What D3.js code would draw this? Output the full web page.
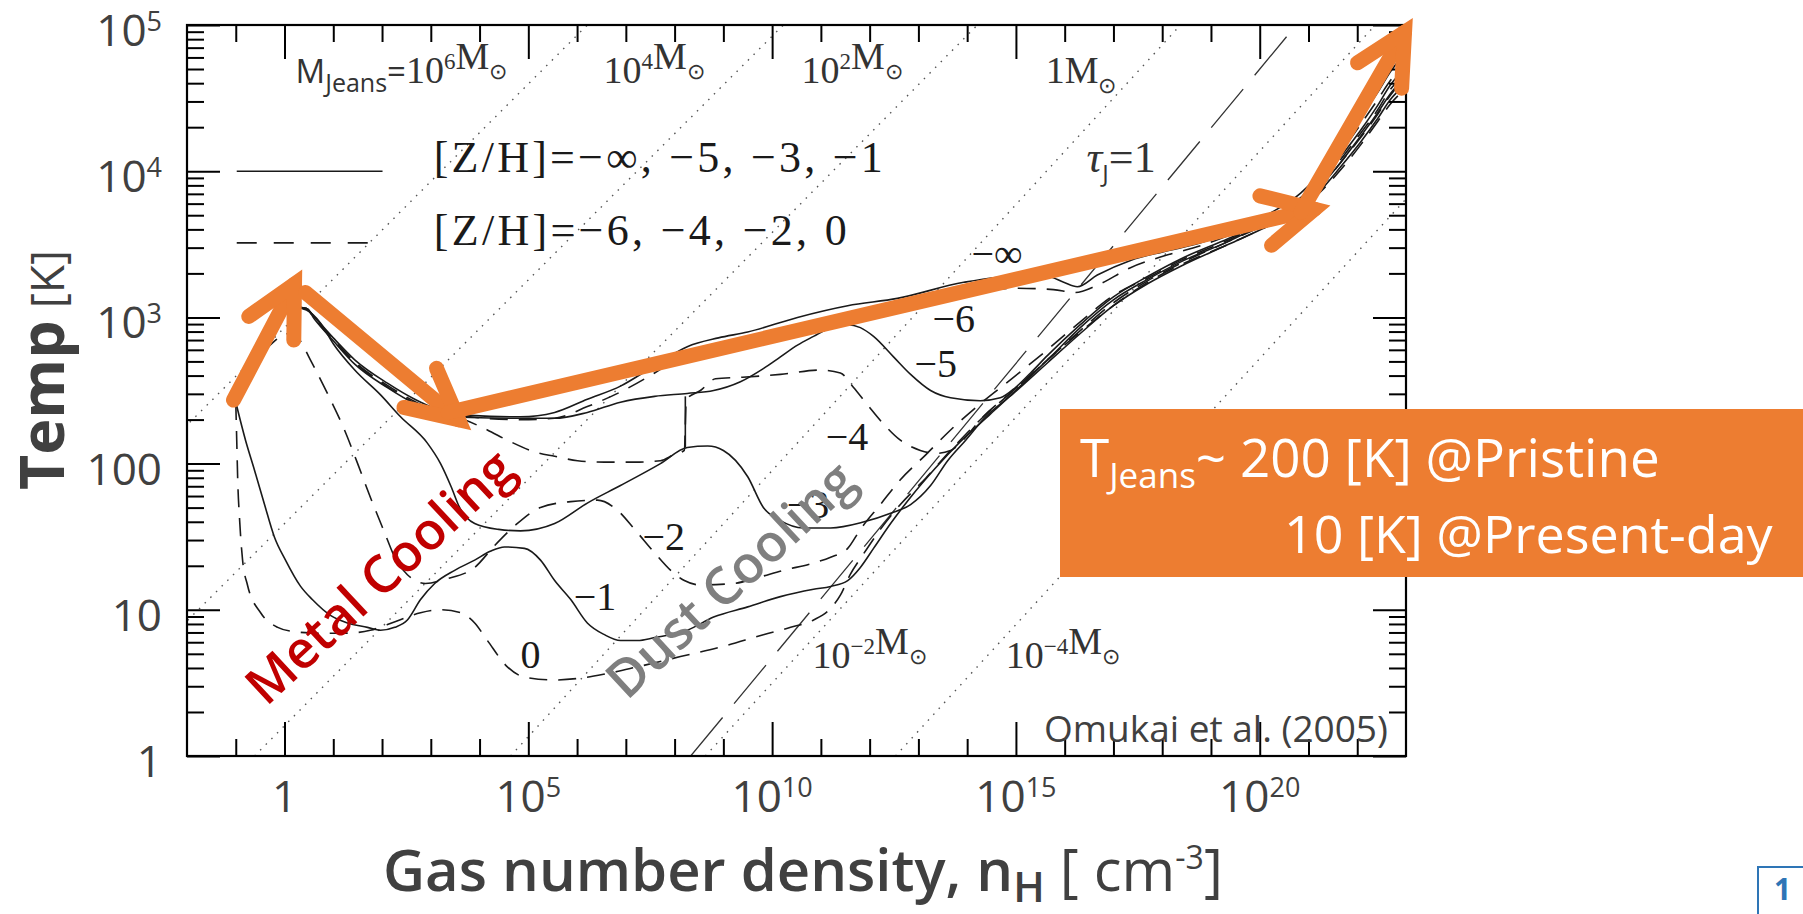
<!DOCTYPE html>
<html>
<head>
<meta charset="utf-8">
<script src="https://cdn.jsdelivr.net/npm/d3@7"></script>
<style>
  body { margin: 0; background: #fff; }
  svg { display: block; }
  .sans { font-family: "Open Sans", "Noto Sans", sans-serif; }
  .serif { font-family: "Liberation Serif", "DejaVu Serif", serif; }
</style>
</head>
<body>
<svg id="chart" width="1803" height="914"></svg>
<script>
// values: [log10 n_H (cm^-3), log10 T (K)]
const trackMinusInf = [[-1.0,2.42],[-0.6,2.72],[-0.2,2.95],[0.2,3.07],[0.45,3.06],[0.62,3.0],[1.0,2.86],[1.44,2.71],[2.11,2.55],[2.67,2.44],[3.14,2.37],[3.81,2.33],[4.84,2.32],[5.54,2.35],[6.21,2.44],[6.89,2.53],[7.59,2.67],[8.26,2.80],[8.9,2.86],[9.5,2.90],[10.52,3.0],[11.55,3.08],[12.57,3.13],[13.93,3.24],[14.95,3.28],[15.65,3.28],[15.98,3.24],[16.26,3.21],[16.67,3.29],[17.35,3.39],[18.03,3.45],[18.79,3.51],[19.36,3.58],[20.2,3.71],[20.84,3.85],[21.25,3.99],[21.66,4.18],[22.07,4.37],[22.42,4.54],[22.68,4.68],[23.01,4.82]];
const trackM6 = [[-1.0,2.42],[-0.6,2.72],[-0.2,2.95],[0.2,3.07],[0.45,3.06],[0.62,2.99],[1.0,2.85],[1.44,2.695],[2.11,2.535],[2.67,2.425],[3.14,2.355],[3.81,2.32],[4.84,2.30],[5.54,2.31],[6.21,2.39],[6.89,2.49],[7.59,2.62],[8.26,2.76],[8.9,2.80],[9.5,2.83],[10.52,2.93],[11.55,3.01],[12.57,3.06],[13.93,3.15],[14.95,3.20],[15.77,3.19],[16.22,3.17],[16.67,3.22],[17.35,3.34],[18.03,3.42],[18.79,3.49],[19.36,3.56],[20.2,3.69],[20.84,3.82],[21.25,3.96],[21.66,4.13],[22.07,4.32],[22.42,4.49],[22.68,4.62],[23.01,4.75]];
const trackM5 = [[-1.0,2.42],[-0.6,2.72],[-0.2,2.95],[0.2,3.07],[0.45,3.06],[0.62,2.985],[1.0,2.84],[1.44,2.68],[2.11,2.52],[2.67,2.41],[3.14,2.345],[3.81,2.315],[4.84,2.31],[5.54,2.31],[6.21,2.35],[6.89,2.42],[7.59,2.46],[8.26,2.48],[8.8,2.50],[9.35,2.56],[9.82,2.65],[10.17,2.73],[10.52,2.81],[10.85,2.87],[11.2,2.93],[11.55,2.95],[11.81,2.93],[12.08,2.87],[12.49,2.73],[12.84,2.61],[13.25,2.50],[13.66,2.45],[14.27,2.43],[14.68,2.45],[14.99,2.52],[15.3,2.62],[15.65,2.74],[16.32,2.95],[17.0,3.14],[17.7,3.28],[18.38,3.40],[19.36,3.54],[20.2,3.67],[20.84,3.79],[21.25,3.93],[21.66,4.10],[22.07,4.28],[22.42,4.45],[22.68,4.59],[23.01,4.71]];
const trackM4 = [[-1.0,2.42],[-0.6,2.72],[-0.2,2.95],[0.2,3.07],[0.45,3.06],[0.62,2.99],[1.0,2.845],[1.44,2.69],[2.11,2.525],[2.67,2.415],[3.14,2.35],[3.69,2.30],[4.16,2.23],[4.57,2.16],[5.13,2.08],[5.54,2.05],[6.01,2.02],[6.56,2.01],[7.18,2.01],[7.71,2.02],[7.98,2.06],[8.2,2.09],[8.24,2.44],[8.53,2.50],[8.84,2.58],[9.35,2.59],[10.17,2.61],[10.99,2.64],[11.40,2.62],[11.67,2.52],[11.96,2.40],[12.26,2.28],[12.63,2.16],[13.04,2.09],[13.35,2.07],[13.66,2.09],[13.97,2.18],[14.27,2.30],[14.95,2.50],[15.65,2.71],[16.32,2.91],[17.0,3.10],[17.7,3.25],[18.38,3.37],[19.36,3.52],[20.2,3.65],[20.84,3.77],[21.25,3.89],[21.66,4.06],[22.07,4.23],[22.42,4.39],[22.68,4.52],[23.01,4.64]];
const trackM3 = [[-1.0,2.42],[-0.6,2.72],[-0.2,2.95],[0.2,3.07],[0.45,3.05],[0.74,2.96],[1.0,2.82],[1.44,2.64],[1.97,2.47],[2.38,2.32],[2.93,2.14],[3.2,2.0],[3.42,1.84],[3.59,1.70],[3.90,1.59],[4.39,1.55],[4.84,1.54],[5.54,1.59],[6.21,1.73],[6.89,1.85],[7.71,2.0],[8.26,2.11],[8.68,2.12],[9.0,2.09],[9.5,1.91],[9.82,1.70],[10.17,1.61],[10.64,1.56],[11.2,1.56],[11.87,1.60],[12.43,1.66],[12.84,1.72],[13.25,1.85],[13.6,2.02],[13.97,2.16],[14.38,2.32],[14.95,2.48],[15.65,2.69],[16.32,2.89],[17.0,3.08],[17.7,3.23],[18.38,3.35],[19.36,3.50],[20.2,3.63],[20.84,3.75],[21.25,3.87],[21.66,4.03],[22.07,4.20],[22.42,4.36],[22.68,4.49],[23.01,4.60]];
const trackM2 = [[-1.0,2.42],[-0.6,2.68],[-0.2,2.84],[0.1,2.89],[0.3,2.85],[0.53,2.71],[0.88,2.48],[1.23,2.23],[1.50,2.0],[1.76,1.77],[2.05,1.53],[2.26,1.36],[2.52,1.24],[2.89,1.18],[3.30,1.21],[3.90,1.29],[4.31,1.44],[4.74,1.58],[5.25,1.70],[5.87,1.74],[6.42,1.75],[6.83,1.68],[7.18,1.55],[7.59,1.39],[7.92,1.27],[8.2,1.20],[8.53,1.17],[9.21,1.18],[9.70,1.22],[10.23,1.27],[10.85,1.32],[11.2,1.36],[11.55,1.42],[11.81,1.55],[12.22,1.72],[12.63,1.89],[13.15,2.06],[13.66,2.23],[14.27,2.41],[14.95,2.59],[15.65,2.78],[16.32,2.97],[17.0,3.15],[17.7,3.27],[18.38,3.39],[19.36,3.53],[20.2,3.67],[20.84,3.78],[21.25,3.91],[21.66,4.08],[22.07,4.26],[22.42,4.42],[22.68,4.56],[23.01,4.67]];
const trackM1 = [[-1.0,2.42],[-0.8,2.16],[-0.62,1.96],[-0.41,1.72],[-0.21,1.50],[0.02,1.34],[0.33,1.16],[0.57,1.07],[0.95,0.96],[1.29,0.91],[1.70,0.88],[1.97,0.86],[2.26,0.88],[2.52,0.93],[2.79,1.07],[3.08,1.18],[3.49,1.27],[3.90,1.34],[4.22,1.40],[4.51,1.43],[4.92,1.42],[5.25,1.34],[5.54,1.20],[5.87,1.07],[6.21,0.91],[6.56,0.83],[6.89,0.79],[7.24,0.79],[7.59,0.81],[8.26,0.86],[8.80,0.95],[9.50,1.02],[10.17,1.09],[10.85,1.14],[11.2,1.16],[11.55,1.20],[11.81,1.29],[12.08,1.42],[12.43,1.59],[12.84,1.77],[13.35,1.97],[13.86,2.15],[14.48,2.34],[15.09,2.53],[15.71,2.73],[16.32,2.93],[17.0,3.12],[17.7,3.26],[18.38,3.38],[19.36,3.52],[20.2,3.66],[20.84,3.77],[21.25,3.90],[21.66,4.06],[22.07,4.24],[22.42,4.40],[22.68,4.53],[23.01,4.65]];
const track0 = [[-1.0,2.42],[-0.98,2.16],[-0.96,1.89],[-0.92,1.61],[-0.86,1.34],[-0.76,1.17],[-0.49,0.98],[-0.14,0.88],[0.21,0.85],[0.74,0.84],[1.25,0.84],[1.76,0.86],[2.28,0.92],[2.79,0.98],[3.2,1.0],[3.61,0.98],[3.9,0.91],[4.16,0.79],[4.57,0.61],[4.92,0.54],[5.54,0.52],[6.01,0.53],[6.56,0.56],[7.24,0.61],[8.12,0.68],[9.0,0.75],[9.82,0.83],[10.38,0.88],[10.85,0.93],[11.2,1.01],[11.4,1.10],[11.6,1.24],[11.85,1.37],[12.22,1.55],[12.63,1.72],[13.15,1.90],[13.66,2.09],[14.27,2.30],[14.95,2.50],[15.65,2.71],[16.32,2.90],[17.0,3.08],[17.7,3.24],[18.38,3.36],[19.36,3.50],[20.2,3.63],[20.84,3.74],[21.25,3.86],[21.66,4.01],[22.07,4.18],[22.42,4.34],[22.68,4.46],[23.01,4.57]];
const jumpSegment = [[8.22,2.11],[8.22,2.46]];

const trackNames = ["−∞", "−6", "−5", "−4", "−3", "−2", "−1", "0"];
const trackDashed = [false, true, false, true, false, true, false, true];
const tracks = [trackMinusInf, trackM6, trackM5, trackM4, trackM3, trackM2, trackM1, track0];
// label anchor (log n, log T) for each track
const trackLabelPos = [[14.09,3.345],[13.29,2.90],[12.92,2.59],[11.10,2.093],[10.3,1.63],[7.34,1.409],[5.93,0.999],[4.84,0.602]];

// constant Jeans mass lines: log10 M and log n where the line meets T = 1 K and T = 1e5 K
const jeansMassExp = [6, 4, 2, 0, -2, -4];
const jeansLineN = [[-8.79,6.21],[-4.77,10.23],[-0.615,14.21],[4.635,18.375],[8.63,22.37],[12.53,26.27]];
const jeansLabelPos = [[0.226,4.603],[6.54,4.603],[10.60,4.603],[15.61,4.603],[10.83,0.602],[14.79,0.602]];
// tau_J = 1 line
const tauLine = [[8.33,0],[20.75,5]];

const xTickExp = [0, 5, 10, 15, 20];
const xTickLabels = [["1",""],["10","5"],["10","10"],["10","15"],["10","20"]];
const yTickExp = [0, 1, 2, 3, 4, 5];
const yTickLabels = [["1",""],["10",""],["100",""],["10","3"],["10","4"],["10","5"]];

const legendSolidText = "[Z/H]=−∞, −5, −3, −1";
const legendDashText = "[Z/H]=−6, −4, −2, 0";

// orange annotation arrows (log n, log T)
const arrows = [
  [[-1.046,2.435],[0.205,3.228]],
  [[0.43,3.17],[3.57,2.30]],
  [[3.36,2.35],[21.12,3.74]],
  [[20.84,3.72],[22.97,4.95]]
];

const svg = d3.select("#chart");
const x = d3.scaleLog().domain([1e-2, 1e23]).range([187, 1406]);
const y = d3.scaleLog().domain([1, 1e5]).range([756, 25]);
const X = v => x(Math.pow(10, v));
const Y = v => y(Math.pow(10, v));
const ORANGE = "#ED7D31";
const INK = "#1a1a1a";
const GREY = "#404040";

svg.append("rect").attr("width", 1803).attr("height", 914).attr("fill", "#fff");
svg.append("clipPath").attr("id", "plotClip").append("rect")
  .attr("x", 187).attr("y", 25).attr("width", 1219).attr("height", 731);

const plotG = svg.append("g").attr("clip-path", "url(#plotClip)");

// Jeans mass dotted lines
plotG.selectAll(".jeans").data(jeansLineN).enter().append("line")
  .attr("x1", d => X(d[0])).attr("y1", Y(0))
  .attr("x2", d => X(d[1])).attr("y2", Y(5))
  .attr("stroke", "#555").attr("stroke-width", 1.4)
  .attr("stroke-dasharray", "1.5,6.5");

// tau_J = 1
plotG.append("line")
  .attr("x1", X(tauLine[0][0])).attr("y1", Y(tauLine[0][1]))
  .attr("x2", X(tauLine[1][0])).attr("y2", Y(tauLine[1][1]))
  .attr("stroke", "#333").attr("stroke-width", 1.3)
  .attr("stroke-dasharray", "50,18");

const line = d3.line().x(d => X(d[0])).y(d => Y(d[1])).curve(d3.curveMonotoneX);
plotG.selectAll(".track").data(tracks).enter().append("path")
  .attr("d", line)
  .attr("fill", "none").attr("stroke", INK).attr("stroke-width", 1.6)
  .attr("stroke-dasharray", (d, i) => trackDashed[i] ? "18,11" : null);
plotG.append("path").attr("d", d3.line().x(d => X(d[0])).y(d => Y(d[1]))(jumpSegment))
  .attr("fill", "none").attr("stroke", INK).attr("stroke-width", 1.6);

// curve labels
svg.selectAll(".tlab").data(trackNames).enter().append("text")
  .attr("class", "serif")
  .attr("x", (d, i) => X(trackLabelPos[i][0]))
  .attr("y", (d, i) => Y(trackLabelPos[i][1]))
  .attr("font-size", 40).attr("fill", INK)
  .text(d => d);

function rich(sel, parts) {
  parts.forEach(p => {
    const s = sel.append("tspan").text(p.t);
    if (p.dy) s.attr("dy", p.dy);
    if (p.size) s.attr("font-size", p.size);
    if (p.cls) s.attr("class", p.cls);
    if (p.style) s.attr("font-style", p.style);
    if (p.weight) s.attr("font-weight", p.weight);
  });
  return sel;
}

// Jeans mass labels
jeansMassExp.forEach((e, i) => {
  const t = svg.append("text").attr("class", "serif")
    .attr("x", X(jeansLabelPos[i][0])).attr("y", Y(jeansLabelPos[i][1]))
    .attr("font-size", 38).attr("fill", "#333");
  const parts = [];
  if (i === 0) {
    parts.push({t: "M", cls: "sans", size: 33}, {t: "Jeans", cls: "sans", size: 25, dy: 9}, {t: "=", cls: "sans", size: 33, dy: -9});
  }
  if (e === 0) parts.push({t: "1", size: 38});
  else parts.push({t: "10", size: 38}, {t: e < 0 ? "−" + (-e) : String(e), size: 23, dy: -14}, {t: "", dy: 14});
  parts.push({t: "M", size: 38}, {t: "⊙", size: 22, dy: 10, cls: "sans"});
  rich(t, parts);
});

// legend
svg.append("line").attr("x1", X(-0.98)).attr("x2", X(2.01)).attr("y1", Y(4)).attr("y2", Y(4))
  .attr("stroke", INK).attr("stroke-width", 1.6);
svg.append("line").attr("x1", X(-0.98)).attr("x2", X(1.72)).attr("y1", Y(3.51)).attr("y2", Y(3.51))
  .attr("stroke", INK).attr("stroke-width", 1.6).attr("stroke-dasharray", "20,17");
svg.append("text").attr("class", "serif").attr("x", X(3.06)).attr("y", Y(3.995))
  .attr("font-size", 44).attr("fill", INK).attr("textLength", 449).attr("lengthAdjust", "spacing")
  .text(legendSolidText);
svg.append("text").attr("class", "serif").attr("x", X(3.06)).attr("y", Y(3.495))
  .attr("font-size", 44).attr("fill", INK).attr("textLength", 413).attr("lengthAdjust", "spacing")
  .text(legendDashText);
rich(svg.append("text").attr("class", "serif").attr("x", X(16.45)).attr("y", Y(3.995))
  .attr("font-size", 44).attr("fill", "#333"),
  [{t: "τ", style: "italic"}, {t: "J", cls: "sans", size: 24, dy: 10}, {t: "=1", dy: -10}]);

// axes ticks (inward on all four sides)
const decades = d3.range(-1, 23);
const xMinor = decades.filter(e => e % 5 !== 0).map(e => Math.pow(10, e));
const xMajor = xTickExp.map(e => Math.pow(10, e));
const yMajor = yTickExp.map(e => Math.pow(10, e));
const yMinor = [];
d3.range(0, 5).forEach(d => d3.range(2, 10).forEach(k => yMinor.push(k * Math.pow(10, d))));

function ticks(axis, tx, ty) {
  svg.append("g").attr("transform", `translate(${tx},${ty})`).call(axis)
    .call(g => g.select(".domain").remove())
    .call(g => g.selectAll("line").attr("stroke", "#000").attr("stroke-width", 2));
}
ticks(d3.axisBottom(x).tickValues(xMinor).tickSize(-17).tickFormat(""), 0, 756);
ticks(d3.axisBottom(x).tickValues(xMajor).tickSize(-34).tickFormat(""), 0, 756);
ticks(d3.axisTop(x).tickValues(xMinor).tickSize(-17).tickFormat(""), 0, 25);
ticks(d3.axisTop(x).tickValues(xMajor).tickSize(-34).tickFormat(""), 0, 25);
ticks(d3.axisLeft(y).tickValues(yMinor).tickSize(-17).tickFormat(""), 187, 0);
ticks(d3.axisLeft(y).tickValues(yMajor).tickSize(-33).tickFormat(""), 187, 0);
ticks(d3.axisRight(y).tickValues(yMinor).tickSize(-17).tickFormat(""), 1406, 0);
ticks(d3.axisRight(y).tickValues(yMajor).tickSize(-33).tickFormat(""), 1406, 0);

svg.append("rect").attr("x", 187).attr("y", 25).attr("width", 1219).attr("height", 731)
  .attr("fill", "none").attr("stroke", "#000").attr("stroke-width", 2.2);

// tick labels
xTickExp.forEach((e, i) => {
  const t = svg.append("text").attr("class", "sans").attr("x", X(e)).attr("y", 812)
    .attr("text-anchor", "middle").attr("font-size", 44).attr("fill", GREY);
  rich(t, [{t: xTickLabels[i][0]}, {t: xTickLabels[i][1], size: 27, dy: -15}]);
});
yTickExp.forEach((e, i) => {
  const t = svg.append("text").attr("class", "sans").attr("x", 162).attr("y", Y(e) + 21)
    .attr("text-anchor", "end").attr("font-size", 44).attr("fill", GREY);
  rich(t, [{t: yTickLabels[i][0]}, {t: yTickLabels[i][1], size: 27, dy: -15}]);
});

// axis titles
rich(svg.append("text").attr("class", "sans").attr("x", 383).attr("y", 891)
  .attr("font-size", 58).attr("fill", GREY),
  [{t: "Gas number density, n", weight: 600},
   {t: "H", size: 42, dy: 11, weight: 600},
   {t: " [ cm", dy: -11, weight: 400},
   {t: "-3", size: 32, dy: -22, weight: 400},
   {t: "]", dy: 22, weight: 400}]);

const yTitle = svg.append("text").attr("class", "sans")
  .attr("transform", "translate(64,490) rotate(-90)")
  .attr("font-size", 61).attr("fill", GREY);
yTitle.append("tspan").attr("font-weight", 700).text("Temp");
yTitle.append("tspan").attr("font-size", 46).attr("font-weight", 400).text(" [K]");

// region annotations
svg.append("text").attr("class", "sans")
  .attr("transform", "translate(378,575) rotate(-43)")
  .attr("text-anchor", "middle").attr("dominant-baseline", "central")
  .attr("font-size", 52).attr("font-weight", 600).attr("fill", "#C00000")
  .text("Metal Cooling");
svg.append("text").attr("class", "sans")
  .attr("transform", "translate(729,578) rotate(-43)")
  .attr("text-anchor", "middle").attr("dominant-baseline", "central")
  .attr("font-size", 52).attr("font-weight", 600).attr("fill", "#7F7F7F")
  .text("Dust Cooling");

// orange arrows
const headLen = 56, headAng = 27 * Math.PI / 180;
arrows.forEach(([a, b]) => {
  const x0 = X(a[0]), y0 = Y(a[1]), x1 = X(b[0]), y1 = Y(b[1]);
  const back = Math.atan2(y0 - y1, x0 - x1);
  const w = s => [x1 + headLen * Math.cos(back + s), y1 + headLen * Math.sin(back + s)];
  const w1 = w(headAng), w2 = w(-headAng);
  svg.append("path").attr("d", `M${x0},${y0}L${x1},${y1}`)
    .attr("stroke", ORANGE).attr("stroke-width", 15).attr("stroke-linecap", "round").attr("fill", "none");
  svg.append("path").attr("d", `M${w1[0]},${w1[1]}L${x1},${y1}L${w2[0]},${w2[1]}`)
    .attr("stroke", ORANGE).attr("stroke-width", 15).attr("stroke-linecap", "round")
    .attr("stroke-linejoin", "miter").attr("stroke-miterlimit", 10).attr("fill", "none");
});

// credit
svg.append("text").attr("class", "sans").attr("x", 1044).attr("y", 742)
  .attr("font-size", 37).attr("fill", GREY).text("Omukai et al. (2005)");

// Jeans temperature box
svg.append("rect").attr("x", 1060).attr("y", 409).attr("width", 760).attr("height", 168).attr("fill", ORANGE);
rich(svg.append("text").attr("class", "sans").attr("x", 1080).attr("y", 477)
  .attr("font-size", 53).attr("fill", "#fff"),
  [{t: "T"}, {t: "Jeans", size: 35, dy: 11}, {t: "~ 200 [K] @Pristine", dy: -11}]);
svg.append("text").attr("class", "sans").attr("x", 1284).attr("y", 553)
  .attr("font-size", 52).attr("fill", "#fff").text("10 [K] @Present-day");

// slide number corner
svg.append("rect").attr("x", 1758).attr("y", 867).attr("width", 80).attr("height", 80)
  .attr("fill", "none").attr("stroke", "#2E75B6").attr("stroke-width", 2);
svg.append("text").attr("class", "sans").attr("x", 1774).attr("y", 900)
  .attr("font-size", 30).attr("font-weight", 700).attr("fill", "#2E75B6").text("1");
</script>
</body>
</html>
